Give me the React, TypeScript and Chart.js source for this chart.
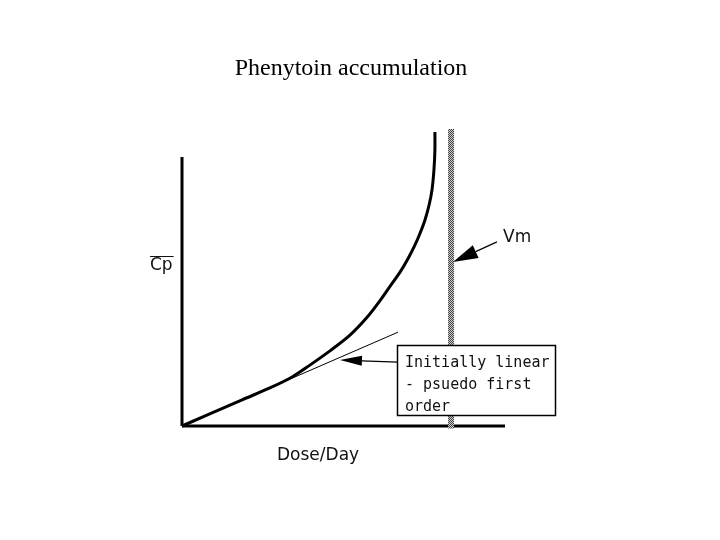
import React, { useEffect, useRef } from "react";
import { Chart, registerables } from "chart.js";

Chart.register(...registerables);

// ---- data (dose/day vs mean steady-state concentration, arbitrary units) ----
const doseValues = [0, 18.6, 27.2, 34.1, 39.6, 45.8, 52.0, 57.3, 61.3, 64.4, 67.5, 70.0, 72.1, 73.7, 75.2, 76.5, 77.4, 78.0, 78.3, 78.3];
const cpValues = [0, 8.8, 12.8, 16.5, 20.5, 25.3, 30.6, 36.6, 42.2, 47.0, 51.8, 56.4, 60.9, 64.9, 69.3, 74.4, 79.5, 86.2, 92.9, 99.0];
const tangentDose = [0, 66.9];
const tangentCp = [0, 31.6];
const vmDose = 83.3;
const vmCpRange = [-0.8, 100];
const xAxisRange = [0, 100];
const yAxisTop = 90.6;

const titleText = "Phenytoin accumulation";
const yLabel = "Cp";
const xLabel = "Dose/Day";
const vmLabel = "Vm";
const noteLines = ["Initially linear", "- psuedo first", "order"];

// annotation anchors in data units
const vmArrowFrom = [97.5, 62.0];
const vmArrowTo = [83.9, 55.2];
const noteArrowFrom = [66.9, 21.5];
const noteArrowTo = [48.9, 22.2];

function makePattern(): CanvasPattern | string {
  const c = document.createElement("canvas");
  c.width = 2;
  c.height = 2;
  const g = c.getContext("2d");
  if (!g) return "#888";
  g.fillStyle = "#d0d0d0";
  g.fillRect(0, 0, 2, 2);
  g.fillStyle = "#404040";
  g.fillRect(0, 0, 1, 1);
  g.fillRect(1, 1, 1, 1);
  return g.createPattern(c, "repeat") || "#888";
}

function arrow(ctx: CanvasRenderingContext2D, x1: number, y1: number, x2: number, y2: number, headLen: number, halfW: number) {
  const ang = Math.atan2(y2 - y1, x2 - x1);
  const bx = x2 - Math.cos(ang) * headLen;
  const by = y2 - Math.sin(ang) * headLen;
  ctx.beginPath();
  ctx.moveTo(x1, y1);
  ctx.lineTo(bx, by);
  ctx.lineWidth = 1.2;
  ctx.strokeStyle = "#000";
  ctx.stroke();
  ctx.beginPath();
  ctx.moveTo(x2, y2);
  ctx.lineTo(bx + Math.sin(ang) * halfW, by - Math.cos(ang) * halfW);
  ctx.lineTo(bx - Math.sin(ang) * halfW, by + Math.cos(ang) * halfW);
  ctx.closePath();
  ctx.fillStyle = "#000";
  ctx.fill();
}

const annotations = {
  id: "annotations",
  afterDatasetsDraw(chart: any) {
    const ctx: CanvasRenderingContext2D = chart.ctx;
    const xs = chart.scales.x;
    const ys = chart.scales.y;
    const px = (v: number) => xs.getPixelForValue(v);
    const py = (v: number) => ys.getPixelForValue(v);
    ctx.save();

    // title
    ctx.fillStyle = "#000";
    ctx.font = "24px 'Liberation Serif', 'Times New Roman', serif";
    ctx.textAlign = "center";
    ctx.textBaseline = "alphabetic";
    ctx.fillText(titleText, 351, 75);

    // axis labels
    ctx.font = "17px 'DejaVu Sans', sans-serif";
    ctx.textAlign = "left";
    ctx.fillStyle = "#111";
    ctx.fillText(yLabel, 150, 270);
    const w = ctx.measureText(yLabel).width;
    ctx.beginPath();
    ctx.moveTo(150, 256.5);
    ctx.lineTo(150 + w + 1, 256.5);
    ctx.lineWidth = 1;
    ctx.strokeStyle = "#111";
    ctx.stroke();
    ctx.fillText(xLabel, 277, 460);
    ctx.fillText(vmLabel, 503, 242);

    // arrows
    arrow(ctx, px(vmArrowFrom[0]), py(vmArrowFrom[1]), px(vmArrowTo[0]), py(vmArrowTo[1]), 25, 7);
    arrow(ctx, px(noteArrowFrom[0]), py(noteArrowFrom[1]), px(noteArrowTo[0]), py(noteArrowTo[1]), 22, 5);

    // note box
    ctx.fillStyle = "#fff";
    ctx.fillRect(397, 345, 159, 71);
    ctx.lineWidth = 1.5;
    ctx.strokeStyle = "#000";
    ctx.strokeRect(397.5, 345.5, 158, 70);
    ctx.fillStyle = "#111";
    ctx.font = "15px 'DejaVu Sans Mono', monospace";
    noteLines.forEach((t, i) => ctx.fillText(t, 405, 367 + i * 22));

    ctx.restore();
  },
};

export default function App() {
  const ref = useRef<HTMLCanvasElement>(null);
  useEffect(() => {
    document.body.style.margin = "0";
    const canvas = ref.current;
    if (!canvas) return;
    const pattern = makePattern();
    const curve = doseValues.map((d, i) => ({ x: d, y: cpValues[i] }));
    const tangent = tangentDose.map((d, i) => ({ x: d, y: tangentCp[i] }));
    const chart = new Chart(canvas, {
      type: "line",
      data: {
        datasets: [
          {
            data: vmCpRange.map((c) => ({ x: vmDose, y: c })),
            borderColor: pattern as any,
            borderWidth: 6,
            borderCapStyle: "butt",
          },
          {
            data: [{ x: 0, y: 0 }, { x: 0, y: yAxisTop }],
            borderColor: "#000",
            borderWidth: 3,
          },
          {
            data: xAxisRange.map((d) => ({ x: d, y: 0 })),
            borderColor: "#000",
            borderWidth: 3,
          },
          {
            data: tangent,
            borderColor: "#000",
            borderWidth: 1,
          },
          {
            data: curve,
            borderColor: "#000",
            borderWidth: 3,
            tension: 0.3,
          },
        ] as any,
      },
      options: {
        animation: false,
        responsive: false,
        events: [],
        layout: { padding: { left: 182, right: 215, top: 129, bottom: 114 } },
        datasets: { line: { clip: false as any, pointRadius: 0, fill: false } },
        scales: {
          x: { type: "linear", min: 0, max: 100, display: false },
          y: { type: "linear", min: 0, max: 100, display: false },
        },
        plugins: { legend: { display: false }, title: { display: false }, tooltip: { enabled: false } },
      },
      plugins: [annotations],
    });
    return () => chart.destroy();
  }, []);
  return (
    <div style={{ width: 720, height: 540, background: "#fff" }}>
      <canvas ref={ref} width={720} height={540} style={{ display: "block" }} />
    </div>
  );
}
